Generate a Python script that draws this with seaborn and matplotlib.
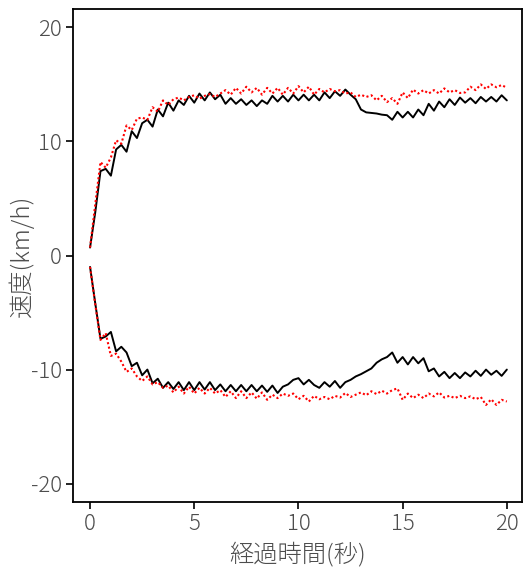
import numpy as np
import seaborn as sns
import matplotlib.pyplot as plt

# time axis (seconds), one sample every 0.25 s
time_s = np.linspace(0, 20, 81)

# upper pair: black = measured, red = reference
upper_black = [
    0.7, 3.8, 7.4, 7.6, 7.0, 9.3, 9.7, 9.1,
    10.9, 10.3, 11.6, 11.9, 11.3, 12.8, 12.2, 13.4,
    12.7, 13.6, 13.2, 14.0, 13.4, 14.2, 13.6, 14.3,
    13.7, 14.1, 13.3, 13.8, 13.3, 13.7, 13.2, 13.6,
    13.1, 13.6, 13.3, 14.0, 13.5, 14.0, 13.5, 14.1,
    13.6, 14.1, 13.6, 14.1, 13.6, 14.3, 13.8, 14.4,
    14.0, 14.55, 14.1, 13.7, 12.8, 12.55, 12.5, 12.45,
    12.35, 12.3, 11.9, 12.6, 12.1, 12.6, 12.1, 12.8,
    12.3, 13.3, 12.7, 13.5, 13.0, 13.7, 13.2, 13.85,
    13.4, 13.8, 13.35, 13.9, 13.5, 13.9, 13.5, 14.05,
    13.6,
]
upper_red = [
    0.7, 4.5, 8.2, 7.7, 8.6, 10.1, 9.8, 11.4,
    11.0, 12.0, 12.1, 11.9, 13.0, 12.6, 13.6, 13.2,
    13.7, 13.85, 13.6, 13.9, 14.05, 13.75, 14.0, 14.15,
    13.9, 14.2, 14.5, 14.1, 14.7, 14.2, 14.8, 14.3,
    14.7, 14.1, 14.7, 14.2, 14.7, 14.1, 14.7, 14.2,
    14.85, 14.3, 14.8, 14.1, 14.6, 14.3, 14.6, 14.4,
    14.5, 14.2, 14.3, 13.9, 14.1, 13.9, 14.05, 13.6,
    14.0, 13.45, 13.8, 13.3, 14.3, 13.8, 14.55, 14.2,
    14.5, 14.2, 14.5, 14.2, 14.65, 14.3, 14.5, 14.25,
    14.3, 14.8, 14.5, 15.0, 14.6, 15.0, 14.75, 14.95,
    14.7,
]

# lower pair
lower_black = [
    -1.0, -4.2, -7.3, -7.1, -6.7, -8.4, -8.0, -8.5,
    -9.7, -9.4, -10.5, -10.0, -11.2, -10.8, -11.6, -11.1,
    -11.7, -11.1, -11.8, -11.1, -11.8, -11.1, -11.75, -11.1,
    -11.8, -11.3, -11.9, -11.35, -11.9, -11.35, -11.9, -11.35,
    -11.9, -11.4, -11.95, -11.4, -12.05, -11.5, -11.3, -10.9,
    -10.75, -11.3, -10.9, -11.35, -11.6, -11.1, -11.5, -11.0,
    -11.6, -11.1, -10.9, -10.6, -10.4, -10.15, -9.9, -9.4,
    -9.1, -8.9, -8.5, -9.4, -8.9, -9.55, -8.9, -9.45,
    -9.0, -10.15, -9.9, -10.6, -10.2, -10.75, -10.3, -10.75,
    -10.25, -10.6, -10.1, -10.55, -10.0, -10.45, -10.1, -10.55,
    -10.0,
]
lower_red = [
    -1.0, -4.3, -7.4, -6.8, -8.8, -8.6, -9.3, -10.2,
    -9.9, -10.6, -11.0, -10.6, -11.3, -11.1, -11.6, -11.4,
    -12.0, -11.5, -12.1, -11.5, -12.1, -11.6, -12.1, -11.6,
    -12.1, -11.8, -12.4, -11.9, -12.5, -11.9, -12.5, -12.0,
    -12.55, -12.0, -12.65, -12.2, -12.5, -12.1, -12.3, -12.1,
    -12.6, -12.3, -12.8, -12.3, -12.6, -12.4, -12.6, -12.3,
    -12.45, -12.05, -12.4, -12.2, -12.0, -12.25, -11.9, -12.15,
    -11.85, -12.1, -11.8, -11.65, -12.65, -12.1, -12.5, -12.2,
    -12.5, -12.1, -12.35, -12.0, -12.45, -12.3, -12.5, -12.3,
    -12.5, -12.35, -12.6, -12.4, -13.1, -12.6, -13.1, -12.65,
    -12.8,
]

x_ticks = [0, 5, 10, 15, 20]
y_ticks = [-20, -10, 0, 10, 20]

sns.set_style('ticks')
plt.rcParams['font.family'] = ['Noto Sans CJK JP', 'DejaVu Sans']
plt.rcParams['axes.unicode_minus'] = False

fig = plt.figure(figsize=(5.25, 5.71), dpi=100)
ax = fig.add_axes([0.139, 0.121, 0.855, 0.863])

solid = dict(color='black', linewidth=1.4, solid_joinstyle='round')
dotted = dict(color='red', linewidth=1.5, linestyle=(0, (1, 1.2)))
sns.lineplot(x=time_s, y=upper_black, ax=ax, **solid)
sns.lineplot(x=time_s, y=upper_red, ax=ax, **dotted)
sns.lineplot(x=time_s, y=lower_black, ax=ax, **solid)
sns.lineplot(x=time_s, y=lower_red, ax=ax, **dotted)

ax.set_xlim(-0.82, 20.72)
ax.set_ylim(-21.6, 21.6)
ax.set_xticks(x_ticks)
ax.set_yticks(y_ticks)
ax.tick_params(direction='out', length=5, width=1.2, color='black',
               labelsize=16, labelcolor='#4d4d4d', pad=3)
for lab in ax.get_xticklabels() + ax.get_yticklabels():
    lab.set_fontweight('light')
for s in ax.spines.values():
    s.set_visible(True)
    s.set_color('black')
    s.set_linewidth(1.3)

ax.set_xlabel('経過時間(秒)', fontsize=17.5, color='#4d4d4d', fontweight='light', labelpad=5)
ax.set_ylabel('速度(km/h)', fontsize=17.5, color='#4d4d4d', fontweight='light', labelpad=-3)

fig.savefig('out.png', dpi=100)
